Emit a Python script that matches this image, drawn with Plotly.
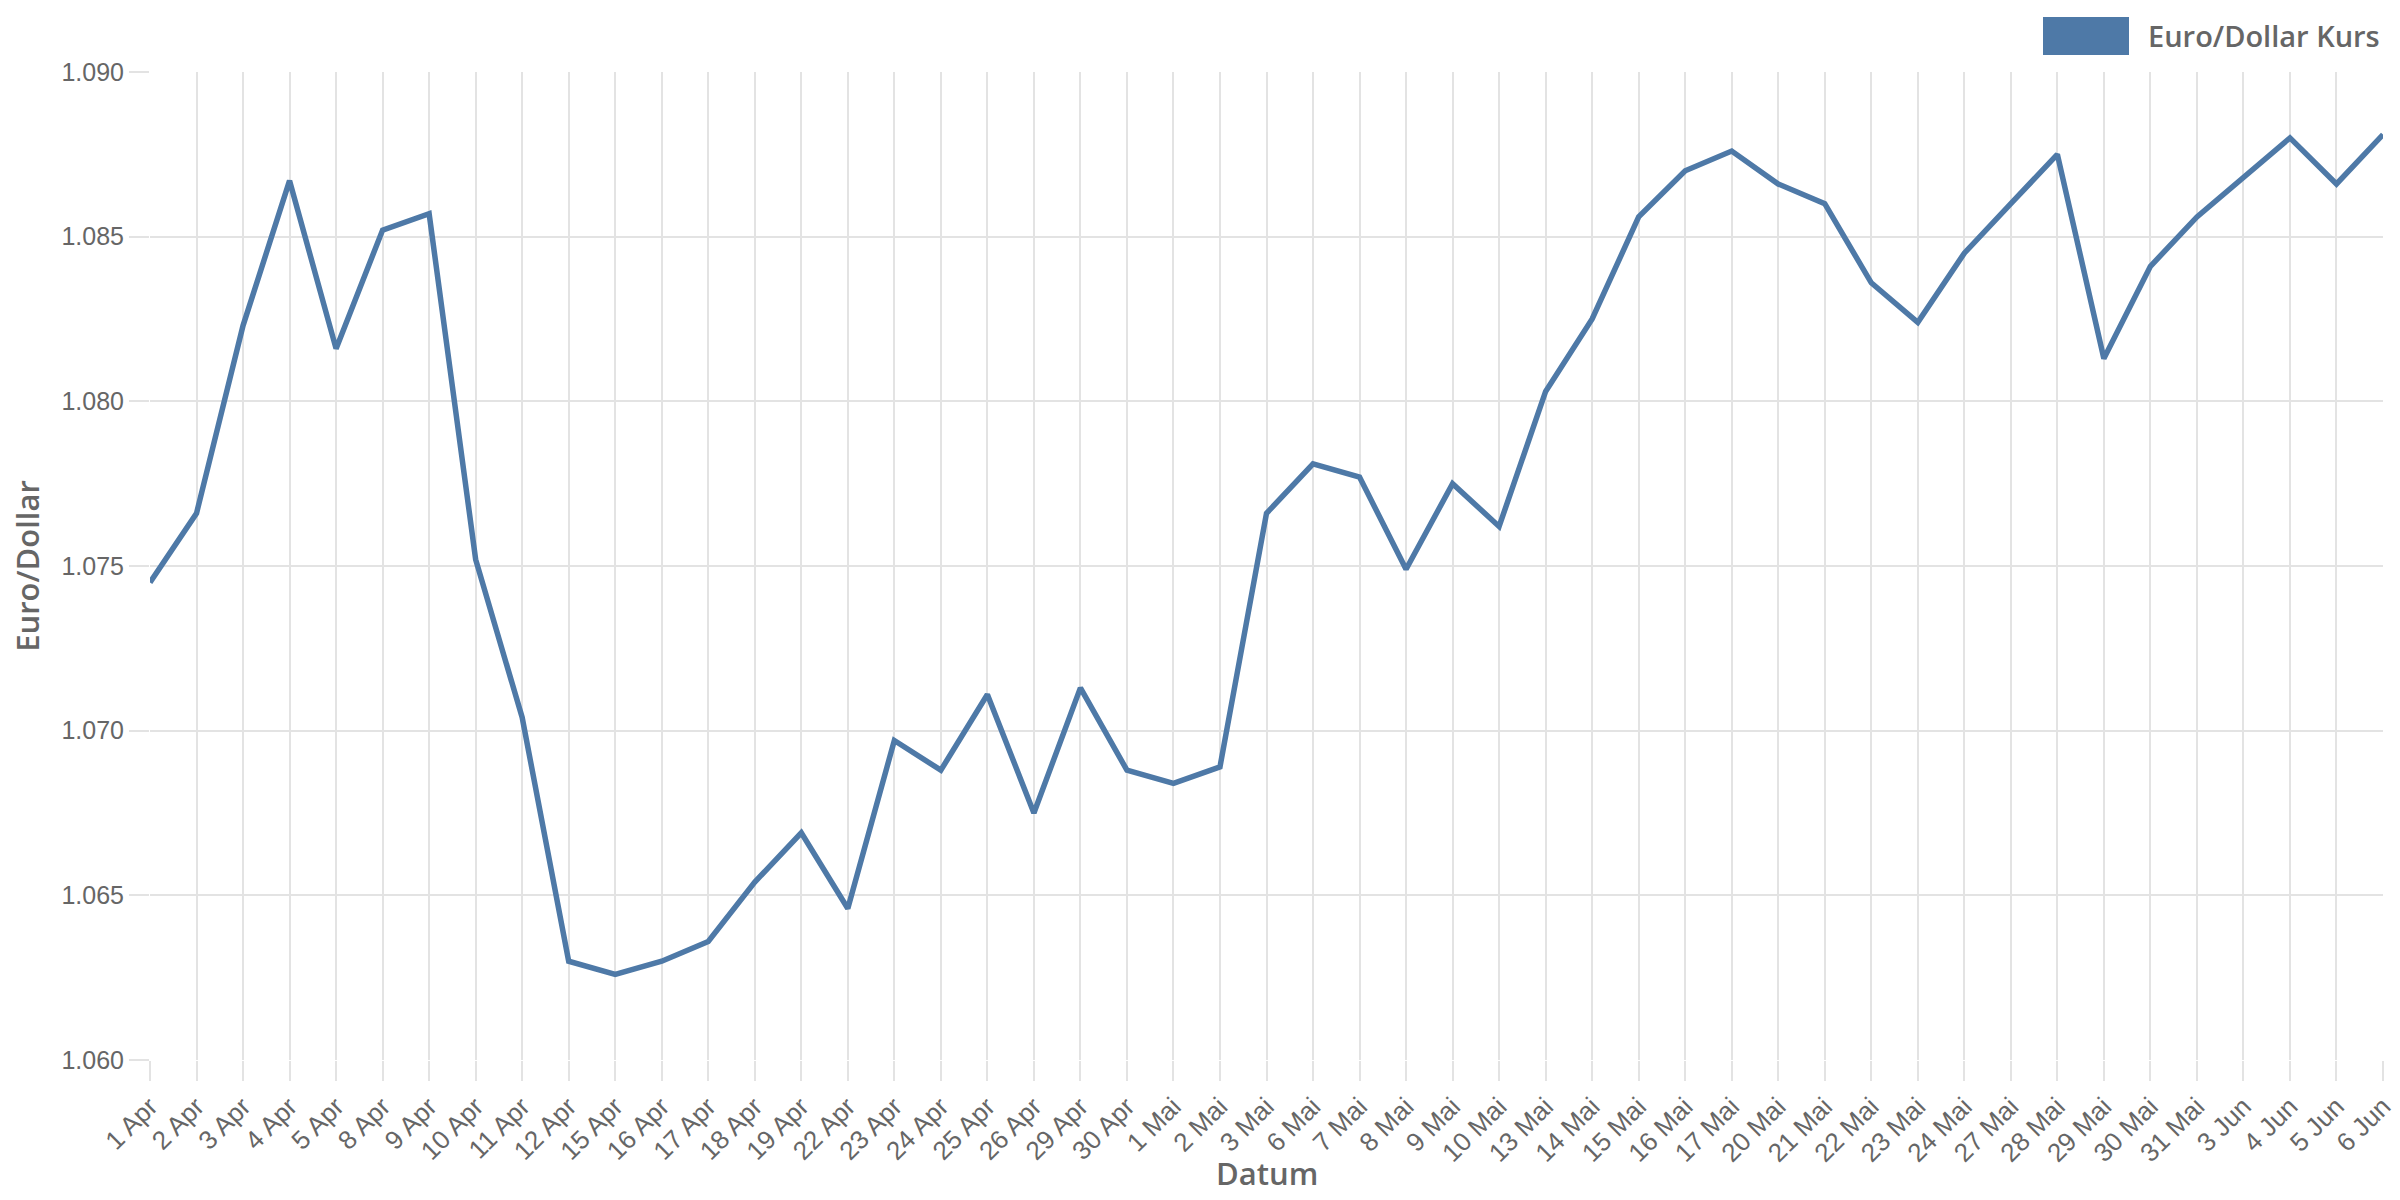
import plotly.graph_objects as go

dates = ["1 Apr", "2 Apr", "3 Apr", "4 Apr", "5 Apr", "8 Apr", "9 Apr", "10 Apr", "11 Apr", "12 Apr",
         "15 Apr", "16 Apr", "17 Apr", "18 Apr", "19 Apr", "22 Apr", "23 Apr", "24 Apr", "25 Apr", "26 Apr",
         "29 Apr", "30 Apr", "1 Mai", "2 Mai", "3 Mai", "6 Mai", "7 Mai", "8 Mai", "9 Mai", "10 Mai",
         "13 Mai", "14 Mai", "15 Mai", "16 Mai", "17 Mai", "20 Mai", "21 Mai", "22 Mai", "23 Mai", "24 Mai",
         "27 Mai", "28 Mai", "29 Mai", "30 Mai", "31 Mai", "3 Jun", "4 Jun", "5 Jun", "6 Jun"]
kurs = [1.0745, 1.0766, 1.0823, 1.0867, 1.0816, 1.0852, 1.0857, 1.0752, 1.0704, 1.0630,
        1.0626, 1.0630, 1.0636, 1.0654, 1.0669, 1.0646, 1.0697, 1.0688, 1.0711, 1.0675,
        1.0713, 1.0688, 1.0684, 1.0689, 1.0766, 1.0781, 1.0777, 1.0749, 1.0775, 1.0762,
        1.0803, 1.0825, 1.0856, 1.0870, 1.0876, 1.0866, 1.0860, 1.0836, 1.0824, 1.0845,
        1.0860, 1.0875, 1.0813, 1.0841, 1.0856, 1.0868, 1.0880, 1.0866, 1.0881]

series_name = "Euro/Dollar Kurs"
x_title = "Datum"
y_title = "Euro/Dollar"
color = "#4e79a7"
font_family = "Liberation Sans, Arial, sans-serif"
title_family = "Open Sans, Liberation Sans, sans-serif"
text_color = "#666666"
grid_color = "#e3e3e3"

fig = go.Figure()
fig.add_trace(go.Scatter(x=dates, y=kurs, mode="lines", name=series_name,
                         line=dict(color=color, width=5.5), showlegend=False))

fig.update_layout(
    width=2400, height=1200,
    margin=dict(l=150, r=17, t=72, b=140),
    paper_bgcolor="white", plot_bgcolor="white",
    font=dict(family=font_family, color=text_color, size=26),
    xaxis=dict(
        type="category", range=[0, len(dates) - 1], automargin=False,
        showgrid=True, gridcolor=grid_color, gridwidth=2,
        ticks="outside", ticklen=20, tickcolor=grid_color, tickwidth=2,
        tickangle=-45, tickfont=dict(size=26, color=text_color),
        showline=False, zeroline=False,
    ),
    yaxis=dict(
        range=[1.060, 1.090], dtick=0.005, tick0=1.060, tickformat=".3f", automargin=False,
        showgrid=True, gridcolor=grid_color, gridwidth=2,
        ticks="outside", ticklen=20, tickcolor=grid_color, tickwidth=2,
        tickfont=dict(size=25, color=text_color),
        showline=False, zeroline=False,
        title=dict(text=y_title, font=dict(size=31, color=text_color, family=title_family, weight=600),
                   standoff=12),
    ),
)

# x-axis title placed below the rotated tick labels
fig.add_annotation(text=x_title, xref="paper", yref="paper",
                   x=0.5, y=(1060 - 1173) / 988, xanchor="center", yanchor="middle",
                   showarrow=False,
                   font=dict(size=31, color=text_color, family=title_family, weight=600))

# Legend drawn as a rectangle and label (as in the reference)
fig.add_shape(type="rect", xref="paper", yref="paper",
              x0=(2043 - 150) / 2233, x1=(2129 - 150) / 2233,
              y0=1 + (72 - 55) / 988, y1=1 + (72 - 17) / 988,
              fillcolor=color, line=dict(width=0))
fig.add_annotation(text=series_name, xref="paper", yref="paper",
                   x=(2382 - 150) / 2233, y=1 + (72 - 36) / 988, xanchor="right", yanchor="middle",
                   showarrow=False,
                   font=dict(size=29, color=text_color, family=title_family, weight=600))

fig.write_html("out.html", config={"displayModeBar": False},
               post_script="document.body.style.margin='0';document.body.style.overflow='hidden';")
